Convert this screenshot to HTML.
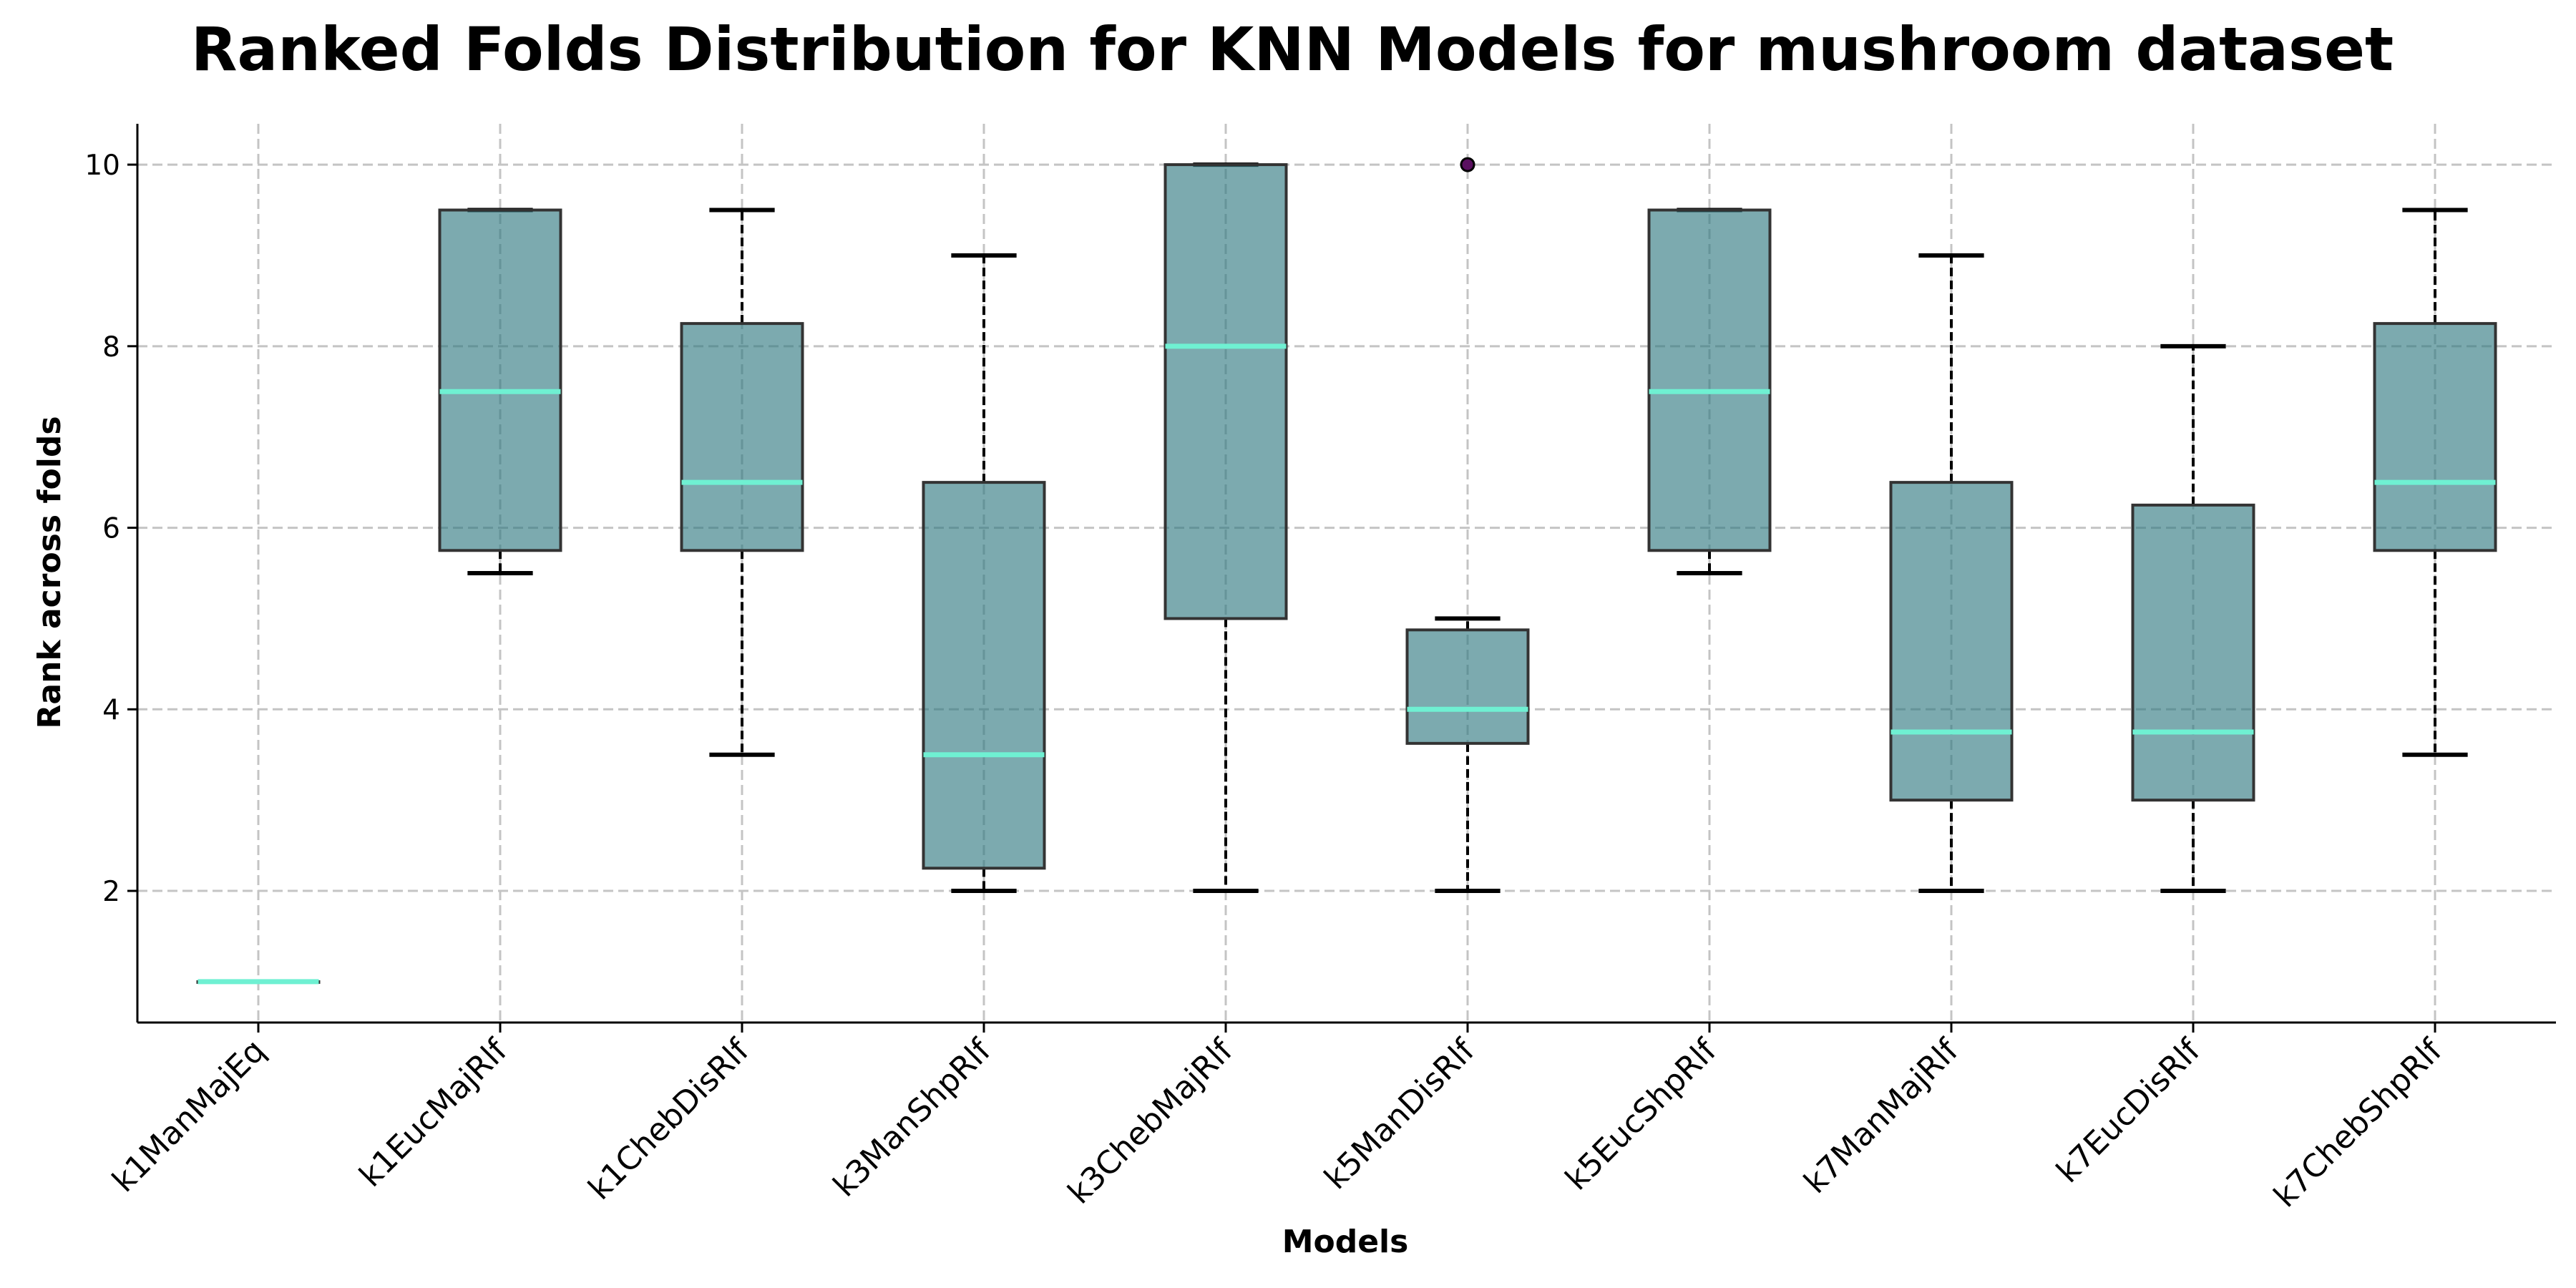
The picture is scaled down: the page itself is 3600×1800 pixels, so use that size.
<!DOCTYPE html>
<html><head><meta charset="utf-8"><style>body{margin:0;background:#fff}svg{display:block}</style></head>
<body>
<svg id="chart" width="3600" height="1800" xmlns="http://www.w3.org/2000/svg" font-family="'DejaVu Sans','Liberation Sans',sans-serif">
<rect width="3600" height="1800" fill="#fff"/>
<text x="1806" y="98" font-size="84" font-weight="bold" text-anchor="middle">Ranked Folds Distribution for KNN Models for mushroom dataset</text>
<text transform="translate(84,800) rotate(-90)" font-size="44" font-weight="bold" text-anchor="middle">Rank across folds</text>
<text x="1880" y="1750" font-size="44" font-weight="bold" text-anchor="middle">Models</text>
<g id="grid"></g><g id="boxes"></g><g id="axes"></g>
</svg>
<script>
const categories=["k1ManMajEq","k1EucMajRlf","k1ChebDisRlf","k3ManShpRlf","k3ChebMajRlf","k5ManDisRlf","k5EucShpRlf","k7ManMajRlf","k7EucDisRlf","k7ChebShpRlf"];
const q1=[1,5.75,5.75,2.25,5,3.625,5.75,3,3,5.75];
const med=[1,7.5,6.5,3.5,8,4,7.5,3.75,3.75,6.5];
const q3=[1,9.5,8.25,6.5,10,4.875,9.5,6.5,6.25,8.25];
const wlo=[1,5.5,3.5,2,2,2,5.5,2,2,3.5];
const whi=[1,9.5,9.5,9,10,5,9.5,9,8,9.5];
const outliers=[[],[],[],[],[],[10],[],[],[],[]];
const yTicks=[2,4,6,8,10];
const NS="http://www.w3.org/2000/svg";
const L=192,R=3572,T=173,B=1429,ymin=0.55,ymax=10.45;
const x=i=>L+(i+0.5)*(R-L)/categories.length;
const y=v=>B-(v-ymin)/(ymax-ymin)*(B-T);
const step=(R-L)/categories.length;
function mk(p,tag,a){const e=document.createElementNS(NS,tag);for(const k in a)e.setAttribute(k,a[k]);p.appendChild(e);return e;}
const grid=document.getElementById('grid'),boxes=document.getElementById('boxes'),axes=document.getElementById('axes');
yTicks.forEach(t=>{
 const g=mk(grid,'line',{x1:L,x2:R,y1:y(t),y2:y(t),stroke:'#c4c4c4','stroke-width':3,'stroke-dasharray':'14,7'});
 
 
 mk(axes,'line',{x1:L-14,x2:L,y1:y(t),y2:y(t),stroke:'#000','stroke-width':3});
 const tx=mk(axes,'text',{x:L-24,y:y(t)+14,'font-size':39,'text-anchor':'end'});tx.textContent=t;
 
 
});
categories.forEach((c,i)=>{
 const g=mk(grid,'line',{x1:x(i),x2:x(i),y1:T,y2:B,stroke:'#c4c4c4','stroke-width':3,'stroke-dasharray':'14,7'});
 
 
 const grp=mk(boxes,'g',{});
 
 
 const bw=step*0.5,cw=step*0.27;
 if(whi[i]>q3[i]) mk(grp,'line',{x1:x(i),x2:x(i),y1:y(q3[i]),y2:y(whi[i]),stroke:'#000','stroke-width':4,'stroke-dasharray':'12,6'});
 if(wlo[i]<q1[i]) mk(grp,'line',{x1:x(i),x2:x(i),y1:y(q1[i]),y2:y(wlo[i]),stroke:'#000','stroke-width':4,'stroke-dasharray':'12,6'});
 if(q3[i]>q1[i]){
  mk(grp,'line',{x1:x(i)-cw/2,x2:x(i)+cw/2,y1:y(whi[i]),y2:y(whi[i]),stroke:'#000','stroke-width':6});
  mk(grp,'line',{x1:x(i)-cw/2,x2:x(i)+cw/2,y1:y(wlo[i]),y2:y(wlo[i]),stroke:'#000','stroke-width':6});
 }
 mk(grp,'rect',{x:x(i)-bw/2,y:y(q3[i]),width:bw,height:Math.max(1,y(q1[i])-y(q3[i])),fill:'rgba(47,121,128,0.63)',stroke:'#333','stroke-width':4});
 mk(grp,'line',{x1:x(i)-bw/2,x2:x(i)+bw/2,y1:y(med[i]),y2:y(med[i]),stroke:'#6ff0d2','stroke-width':7});
 outliers[i].forEach(o=>{mk(grp,'circle',{cx:x(i),cy:y(o),r:9,fill:'#5a1060',stroke:'#000','stroke-width':3});});
 mk(axes,'line',{x1:x(i),x2:x(i),y1:B,y2:B+14,stroke:'#000','stroke-width':3});
 const tx=mk(axes,'text',{transform:`translate(${x(i)+12},${B+42}) rotate(-45)`,'font-size':44,'text-anchor':'end'});tx.textContent=c;
 
 
});
mk(axes,'line',{x1:L,x2:L,y1:T,y2:B,stroke:'#000','stroke-width':3});
mk(axes,'line',{x1:L,x2:R,y1:B,y2:B,stroke:'#000','stroke-width':3});
</script>
</body></html>
